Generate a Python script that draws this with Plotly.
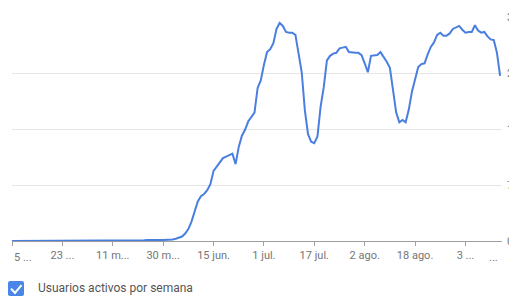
import plotly.graph_objects as go

# Day index (daily points) and weekly active users values
days = list(range(156))
values = [0.0] * 41 + [
    0.05, 0.1, 0.12, 0.15, 0.15, 0.13, 0.15, 0.15, 0.15, 0.18,   # 41-50
    0.2, 0.3, 0.4, 0.6, 1.0, 1.6, 2.6, 3.9, 5.3, 6.0,            # 51-60
    6.3, 6.8, 7.6, 9.4, 10.0, 10.6, 11.1, 11.3, 11.5, 11.7,      # 61-70
    10.3, 12.6, 14.1, 14.9, 16.0, 16.6, 17.2, 20.5, 21.5, 23.6,  # 71-80
    25.3, 25.7, 26.5, 28.4, 29.2, 28.8, 28.0, 27.9, 27.9, 27.6,  # 81-90
    25.0, 22.6, 17.5, 14.3, 13.3, 13.1, 14.0, 18.0, 20.6, 24.2,  # 91-100
    24.8, 25.1, 25.2, 25.8, 25.9, 26.0, 25.3, 25.2, 25.2, 25.2,  # 101-110
    24.9, 23.8, 22.6, 24.8, 24.8, 24.9, 25.3, 24.7, 24.0, 23.2,  # 111-120
    20.2, 17.2, 15.9, 16.2, 15.9, 17.6, 20.0, 21.6, 23.3, 23.7,  # 121-130
    23.8, 25.0, 26.0, 26.6, 27.6, 27.9, 27.5, 27.5, 27.8, 28.4,  # 131-140
    28.6, 28.8, 28.3, 27.9, 28.0, 28.0, 28.9, 28.2, 27.9, 28.0,  # 141-150
    27.4, 27.0, 26.9, 25.2, 22.1,                                # 151-155
]

x_tick_vals = [0, 16, 32, 48, 64, 80, 96, 112, 128, 144]
x_tick_text = ["", "23 ...", "11 m...", "30 m...", "15 jun.", "1 jul.",
               "17 jul.", "2 ago.", "18 ago.", "3 ..."]
first_tick_label = "5 ..."
last_tick_label = "..."
y_tick_vals = [0, 7.5, 15, 22.5, 30]
y_tick_text = ["0", "7,5", "15", "22,5", "30"]
series_name = "Usuarios activos por semana"

LINE = "#4a7fe0"
TXT = "#757575"
FONT = "Roboto, Arial, sans-serif"

fig = go.Figure()
fig.add_trace(go.Scatter(
    x=days, y=values, mode="lines", name=series_name,
    line=dict(color=LINE, width=2), showlegend=False, hoverinfo="skip",
))

# page body has an 8px default margin, so the figure is sized to fill the rest
fig.update_layout(
    width=509, height=289,
    margin=dict(l=4, r=15, t=9, b=56, autoexpand=False),
    paper_bgcolor="white", plot_bgcolor="white",
    font=dict(family=FONT, size=11, color=TXT),
    xaxis=dict(
        range=[0, 155.6], tickmode="array", tickvals=x_tick_vals, ticktext=x_tick_text,
        showgrid=False, zeroline=False, showline=True, linecolor="#9e9e9e", linewidth=1,
        ticks="outside", ticklen=4, tickcolor="#9e9e9e", automargin=False,
        ticklabeloverflow="allow",
        tickfont=dict(size=11, color=TXT, family=FONT),
    ),
    yaxis=dict(
        range=[0, 30], side="right", tickmode="array", tickvals=y_tick_vals, ticktext=y_tick_text,
        showgrid=True, gridcolor="#e6e6e6", gridwidth=1, zeroline=False, showline=False,
        ticks="", ticklabelstandoff=4, automargin=False, ticklabeloverflow="allow",
        tickfont=dict(size=11, color=TXT, family=FONT),
    ),
)

# edge tick labels (shifted inside like the reference)
fig.add_annotation(x=0, y=0, xref="x", yref="y", xanchor="left", yanchor="top", yshift=-8,
                   text=first_tick_label, showarrow=False,
                   font=dict(size=11, color=TXT, family=FONT))
fig.add_annotation(x=153, y=0, xref="x", yref="y", yanchor="top", yshift=-8,
                   text=last_tick_label, showarrow=False,
                   font=dict(size=11, color=TXT, family=FONT))

# checkbox legend
fig.add_shape(type="path", xref="paper", yref="paper",
              path="M -0.0041,-0.1786 L 0.0204,-0.1786 Q 0.0245,-0.1786 0.0245,-0.1875 L 0.0245,-0.2366 "
                   "Q 0.0245,-0.2455 0.0204,-0.2455 L -0.0041,-0.2455 Q -0.0082,-0.2455 -0.0082,-0.2366 "
                   "L -0.0082,-0.1875 Q -0.0082,-0.1786 -0.0041,-0.1786 Z",
              fillcolor="#4a86e8", line=dict(width=0))
fig.add_shape(type="path", xref="paper", yref="paper",
              path="M -0.0020,-0.2125 L 0.0061,-0.2321 L 0.0194,-0.1973",
              line=dict(color="white", width=2))
fig.add_annotation(x=0.049, y=-0.2098, xref="paper", yref="paper", xanchor="left", yanchor="middle",
                   text=series_name, showarrow=False,
                   font=dict(size=12, color="#555555", family=FONT))

fig.write_html("out.html")
